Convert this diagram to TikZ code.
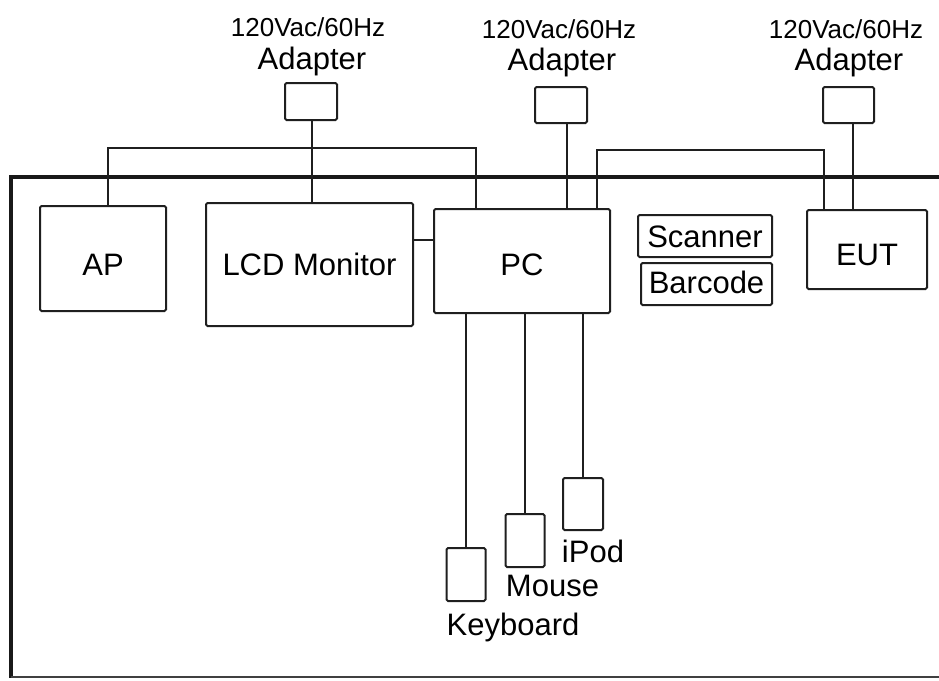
\documentclass[tikz,border=0pt]{standalone}
\usepackage{fontspec}
\setmainfont{Liberation Sans}
\begin{document}
\begin{tikzpicture}[x=1pt,y=-1pt,
  box/.style={draw=black!88,line width=2pt,rounded corners=1.5pt,inner sep=0pt,outer sep=0pt,font=\fontsize{31}{36}\selectfont,text depth=0pt},
  wire/.style={draw=black!88,line width=2pt},
  big/.style={font=\fontsize{31}{36}\selectfont,inner sep=0pt,anchor=base},
  small/.style={font=\fontsize{26}{30}\selectfont,inner sep=0pt,anchor=base}]
\useasboundingbox (0,0) rectangle (939,680);
% table
\draw[draw=black!90,line width=4.5pt] (945,177) -- (11,177) -- (11,678);
\draw[draw=black!75,line width=2.5pt] (11,677) -- (945,677);
% boxes
\node[box,minimum width=126pt,minimum height=105pt,text height=33pt] (ap) at (103,258.5) {AP};
\node[box,minimum width=207pt,minimum height=123pt,text height=21pt] (lcd) at (309.5,264.5) {LCD Monitor};
\node[box,minimum width=176pt,minimum height=104pt,text height=28pt] (pc) at (522,261) {PC};
\node[box,minimum width=134pt,minimum height=42pt,text height=22pt] (scan) at (705,236) {Scanner};
\node[box,minimum width=131pt,minimum height=42pt,text height=18pt] (bar) at (706.5,284) {Barcode};
\node[box,minimum width=120pt,minimum height=79pt,text height=31pt] (eut) at (867,249.5) {EUT};
\node[box,minimum width=52pt,minimum height=37pt] (ad1) at (311,101.5) {};
\node[box,minimum width=52pt,minimum height=36pt] (ad2) at (561,105) {};
\node[box,minimum width=51pt,minimum height=36pt] (ad3) at (848.5,105) {};
\node[box,minimum width=39pt,minimum height=53pt] (kb) at (466,574.5) {};
\node[box,minimum width=39pt,minimum height=53pt] (ms) at (525,540.5) {};
\node[box,minimum width=40pt,minimum height=52pt] (ipod) at (583,504) {};
% labels
\node[small] (t1) at (308,36) {120Vac/60Hz};
\node[big] (a1) at (312,69) {Adapter};
\node[small] (t2) at (559,38) {120Vac/60Hz};
\node[big] (a2) at (562,70) {Adapter};
\node[small] (t3) at (846,38) {120Vac/60Hz};
\node[big] (a3) at (849,70) {Adapter};
\node[big] (lkb) at (513,635) {Keyboard};
\node[big] (lms) at (552.5,596) {Mouse};
\node[big] (lip) at (593,562) {iPod};
% connectors
\coordinate (c1) at (476,148);
\coordinate (c2) at (824,150);
\draw[wire] ([xshift=1pt]ad1.south) -- ([xshift=1pt]ad1.south |- lcd.north);
\draw[wire] ([xshift=5pt]ap.north) |- (c1) -- (c1 |- pc.north);
\draw[wire] ([xshift=6pt]ad2.south) -- ([xshift=6pt]ad2.south |- pc.north);
\draw[wire] ([xshift=75pt]pc.north) |- (c2) -- (c2 |- eut.north);
\draw[wire] ([xshift=4.5pt]ad3.south) -- ([xshift=4.5pt]ad3.south |- eut.north);
\draw[wire] ([yshift=24.5pt]lcd.east) -- ([yshift=24.5pt]lcd.east -| pc.west);
\draw[wire] (kb.north |- pc.south) -- (kb.north);
\draw[wire] (ms.north |- pc.south) -- (ms.north);
\draw[wire] (ipod.north |- pc.south) -- (ipod.north);
\end{tikzpicture}
\end{document}
